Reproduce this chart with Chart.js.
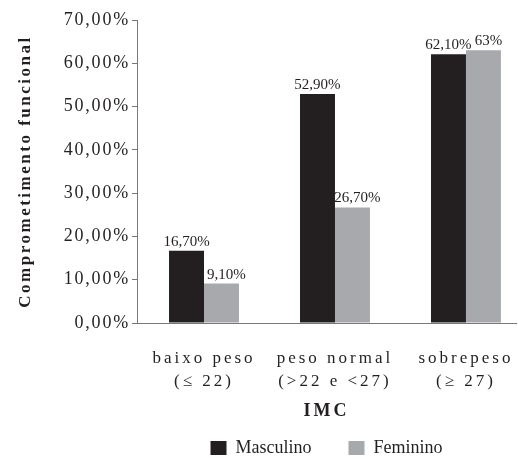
<!DOCTYPE html>
<html>
<head>
<meta charset="utf-8">
<script src="https://cdn.jsdelivr.net/npm/chart.js@4.4.1/dist/chart.umd.min.js"></script>
<style>
  html, body { margin: 0; padding: 0; background: #fff; }
  #wrap { width: 518px; height: 459px; position: relative; }
</style>
</head>
<body>
<div id="wrap"><canvas id="chart"></canvas></div>
<script>
// categories on the x axis (two lines each) and where they sit on the index scale
const categories = [['baixo peso', '(≤ 22)'], ['peso normal', '(>22 e <27)'], ['sobrepeso', '(≥ 27)']];
const positions = [1, 2, 3];
const masculino = [16.7, 52.9, 62.1];
const feminino = [9.1, 26.7, 63];
const masculinoLabels = ['16,70%', '52,90%', '62,10%'];
const femininoLabels = ['9,10%', '26,70%', '63%'];
const yMax = 70;
const yStep = 10;

const textColor = '#231f20';
const axisColor = '#77787b';
const serif = "'Liberation Serif', 'DejaVu Serif', serif";

// letter spacing per scale (text is spaced out in the original)
const spacing = {
    x: { drawLabels: '3px', drawTitle: '3px' },
    y: { drawLabels: '1.8px', drawTitle: '2.5px' }
};
const letterSpacing = {
    id: 'letterSpacing',
    beforeDraw(chart) {
        for (const id of Object.keys(spacing)) {
            const s = chart.scales[id];
            if (!s || s._spaced) continue;
            for (const fn of Object.keys(spacing[id])) {
                const orig = s[fn].bind(s);
                s[fn] = (area) => {
                    chart.ctx.save();
                    chart.ctx.letterSpacing = spacing[id][fn];
                    orig(area);
                    chart.ctx.restore();
                };
            }
            s._spaced = true;
        }
    }
};

// value labels above each bar (grey ones nudged right, clear of the dark bar)
const barLabels = {
    id: 'barLabels',
    afterDatasetsDraw(chart) {
        const ctx = chart.ctx;
        const texts = [masculinoLabels, femininoLabels];
        const shift = [0, 5];
        ctx.save();
        ctx.font = `15px ${serif}`;
        ctx.fillStyle = textColor;
        ctx.textAlign = 'center';
        ctx.textBaseline = 'alphabetic';
        chart.data.datasets.forEach((ds, i) => {
            chart.getDatasetMeta(i).data.forEach((bar, j) => {
                ctx.fillText(texts[i][j], bar.x + shift[i], bar.y - 5);
            });
        });
        ctx.restore();
    }
};

const toPoints = (vals) => vals.map((v, i) => ({ x: positions[i], y: v }));

new Chart(document.getElementById('chart').getContext('2d'), {
    type: 'bar',
    data: {
        datasets: [
            {
                label: 'Masculino\u00a0\u00a0\u00a0\u00a0\u00a0\u00a0',
                data: toPoints(masculino),
                backgroundColor: '#231f20',
                borderWidth: 0
            },
            {
                label: 'Feminino',
                data: toPoints(feminino),
                backgroundColor: '#a7a9ac',
                borderWidth: 0
            }
        ]
    },
    options: {
        responsive: true,
        maintainAspectRatio: false,
        animation: false,
        categoryPercentage: 0.534,
        barPercentage: 1,
        layout: { padding: { top: 20, right: 2, left: 0, bottom: -8 } },
        plugins: {
            tooltip: { enabled: false },
            legend: {
                position: 'bottom',
                fullSize: false,
                labels: {
                    color: textColor,
                    font: { family: serif, size: 18 },
                    boxWidth: 16,
                    boxHeight: 14,
                    padding: 10
                }
            }
        },
        scales: {
            x: {
                type: 'linear',
                offset: false,
                min: 0.4885,
                max: 3.382,
                grid: { display: false, offset: false },
                border: { display: true, color: axisColor, width: 1 },
                ticks: {
                    stepSize: 1,
                    includeBounds: false,
                    autoSkip: false,
                    maxRotation: 0,
                    padding: 16.5,
                    color: textColor,
                    font: { family: serif, size: 17, lineHeight: 1.35 },
                    callback: (v) => categories[positions.indexOf(v)] || ''
                },
                title: {
                    display: true,
                    text: 'IMC',
                    color: textColor,
                    font: { family: serif, size: 18, weight: 'bold' },
                    padding: { top: 0, bottom: 7 }
                },
                afterFit: (scale) => { scale.height = 106; }
            },
            y: {
                min: 0,
                max: yMax,
                grid: {
                    display: true,
                    drawOnChartArea: false,
                    drawTicks: true,
                    tickLength: 5,
                    color: axisColor
                },
                border: { display: true, color: axisColor, width: 1 },
                ticks: {
                    stepSize: yStep,
                    padding: 2,
                    color: textColor,
                    font: { family: serif, size: 18 },
                    callback: (v) => v.toFixed(2).replace('.', ',') + '%'
                },
                title: {
                    display: true,
                    text: 'Comprometimento funcional',
                    color: textColor,
                    font: { family: serif, size: 17, weight: 'bold' },
                    padding: { top: 15, bottom: 0 }
                },
                afterFit: (scale) => { scale.width = 137; }
            }
        }
    },
    plugins: [letterSpacing, barLabels]
});
</script>
</body>
</html>
